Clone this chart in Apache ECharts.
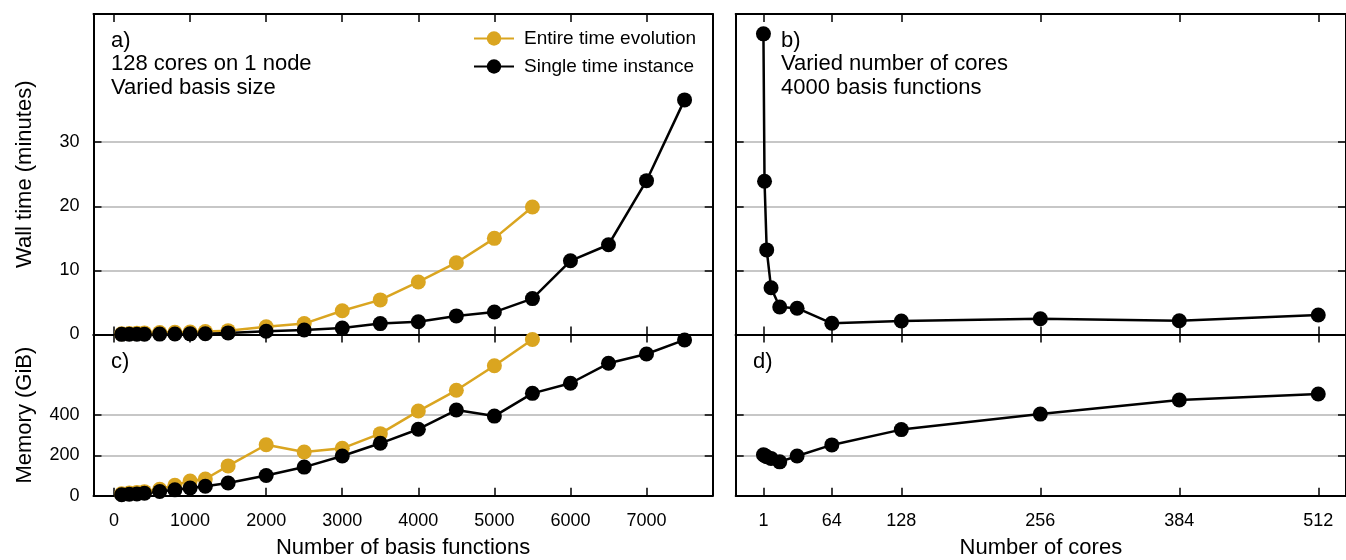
<!DOCTYPE html>
<html><head><meta charset="utf-8">
<script src="https://cdn.jsdelivr.net/npm/echarts@6/dist/echarts.min.js"></script>
<style>html,body{margin:0;padding:0;background:#fff}#c{width:1346px;height:560px}</style>
</head><body><div id="c"></div>
<script>
// ---- data ----
const basisSizes = [100,200,300,400,600,800,1000,1200,1500,2000,2500,3000,3500,4000,4500,5000,5500,6000,6500,7000,7500];
const wallEntire = [0.1,0.15,0.2,0.25,0.3,0.35,0.4,0.45,0.6,1.2,1.7,3.7,5.4,8.2,11.2,15.0,19.9];
const wallSingle = [0.02,0.03,0.04,0.05,0.06,0.08,0.1,0.12,0.25,0.5,0.7,1.0,1.7,2.0,2.9,3.5,5.6,11.5,14.0,24.0,36.6];
const memEntire = [10,13,16,20,32,52,73,83,148,253,217,235,308,420,523,645,775];
const memSingle = [5,7,9,12,21,29,38,47,63,100,142,197,260,330,425,395,508,558,657,703,773];
const cores = [1,2,4,8,16,32,64,128,256,384,512];
const wallCores = [46.9,23.9,13.2,7.3,4.3,4.1,1.75,2.1,2.45,2.15,3.05];
const memCores = [203,200,193,185,168,197,252,328,405,475,505];
const basisTicks = [0,1000,2000,3000,4000,5000,6000,7000];
const coreTicks = [1,64,128,256,384,512];
const wallLabels = [0,10,20,30];
const wallGrid = [10,20,30];
const memLabels = [0,200,400];
const memGrid = [200,400];

const FONT = "'Liberation Sans', Arial, Helvetica, sans-serif";
const GOLD = '#DAA520';

function pairs(xs, ys){ return ys.map((y,i)=>[xs[i], y]); }

function xAx(grid, pos, min, max, ticks, showLabels, name){
  return {
    type:'value', gridIndex:grid, position:pos, min:min, max:max,
    axisLine:{show:true,onZero:false,lineStyle:{color:'#000',width:2}},
    axisTick:{show:true,inside:true,length:8,customValues:ticks,lineStyle:{color:'#000',width:1.5}},
    axisLabel:{show:showLabels,customValues:ticks,margin:16,fontSize:18,color:'#000',fontFamily:FONT,formatter:v=>String(v)},
    splitLine:{show:false},
    name:name||'', nameLocation:'middle', nameGap:41,
    nameTextStyle:{fontSize:22,color:'#000',fontFamily:FONT}
  };
}
function yAx(grid, pos, max, ticks, labels, split, name){
  return {
    type:'value', gridIndex:grid, position:pos, min:0, max:max,
    axisLine:{show:true,onZero:false,lineStyle:{color:'#000',width:2}},
    axisTick:{show:true,inside:true,length:8,customValues:ticks,lineStyle:{color:'#000',width:1.5}},
    axisLabel:{show:!!labels,customValues:labels||ticks,margin:14,fontSize:18,color:'#000',fontFamily:FONT,formatter:v=>String(v)},
    splitLine:{show:split,lineStyle:{color:'#b4b4b4',width:1.5}},
    name:name||'', nameLocation:'middle', nameGap:58,
    nameTextStyle:{fontSize:22,color:'#000',fontFamily:FONT}
  };
}

const LX0 = -270, LX1 = 7870, RX0 = -24.55, RX1 = 537.55;
const grids = [
  {left:93.5, top:14, width:619.2, height:320.5},
  {left:93.5, top:334.5, width:619.2, height:161.2},
  {left:735.7, top:14, width:619.2, height:320.5},
  {left:735.7, top:334.5, width:619.2, height:161.2}
];

const xAxes = [
  xAx(0,'bottom',LX0,LX1,basisTicks,false),
  xAx(0,'top',LX0,LX1,basisTicks,false),
  xAx(1,'bottom',LX0,LX1,basisTicks,true,'Number of basis functions'),
  xAx(1,'top',LX0,LX1,basisTicks,false),
  xAx(2,'bottom',RX0,RX1,coreTicks,false),
  xAx(2,'top',RX0,RX1,coreTicks,false),
  xAx(3,'bottom',RX0,RX1,coreTicks,true,'Number of cores'),
  xAx(3,'top',RX0,RX1,coreTicks,false)
];
const yAxes = [
  yAx(0,'left',50,wallGrid,wallLabels,true,'Wall time (minutes)'),
  yAx(0,'right',50,wallGrid,null,false),
  yAx(1,'left',800,memGrid,memLabels,true,'Memory (GiB)'),
  yAx(1,'right',800,memGrid,null,false),
  yAx(2,'left',50,wallGrid,null,true),
  yAx(2,'right',50,wallGrid,null,false),
  yAx(3,'left',800,memGrid,null,true),
  yAx(3,'right',800,memGrid,null,false)
];

function ser(name, color, xi, yi, data){
  return {
    type:'line', name:name, xAxisIndex:xi, yAxisIndex:yi, data:data,
    symbol:'circle', symbolSize:15, showSymbol:true, clip:false,
    lineStyle:{color:color,width:2.5}, itemStyle:{color:color},
    emphasis:{disabled:true}, animation:false, z:3
  };
}

const series = [
  ser('Entire time evolution', GOLD, 0, 0, pairs(basisSizes, wallEntire)),
  ser('Single time instance', '#000', 0, 0, pairs(basisSizes, wallSingle)),
  ser('Entire time evolution', GOLD, 2, 2, pairs(basisSizes, memEntire)),
  ser('Single time instance', '#000', 2, 2, pairs(basisSizes, memSingle)),
  ser('cores wall', '#000', 4, 4, pairs(cores, wallCores)),
  ser('cores mem', '#000', 6, 6, pairs(cores, memCores))
];

const txt = (left, top, text) => ({
  type:'text', left:left, top:top, z:10,
  style:{text:text, font:'22px ' + FONT, lineHeight:23.5, fill:'#000'}
});

const chart = echarts.init(document.getElementById('c'), null, {renderer:'canvas'});
chart.setOption({
  animation:false,
  backgroundColor:'#fff',
  grid:grids,
  xAxis:xAxes,
  yAxis:yAxes,
  series:series,
  legend:{
    data:['Entire time evolution','Single time instance'],
    left:473, top:29, padding:0, orient:'vertical', itemWidth:40, itemHeight:18, itemGap:9,
    textStyle:{fontSize:19, color:'#000', fontFamily:FONT, padding:[0,0,0,5]},
    selectedMode:false
  },
  graphic:[
    txt(111, 29, 'a)\n128 cores on 1 node\nVaried basis size'),
    txt(781, 29, 'b)\nVaried number of cores\n4000 basis functions'),
    txt(111, 350, 'c)'),
    txt(753, 350, 'd)')
  ]
});
</script></body></html>
